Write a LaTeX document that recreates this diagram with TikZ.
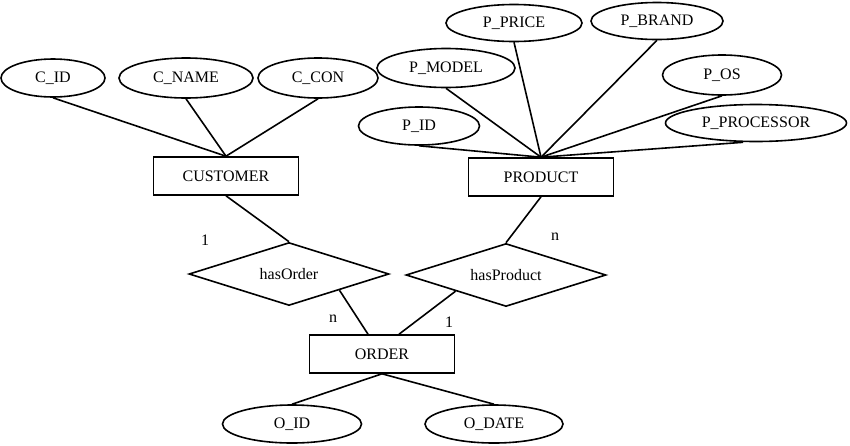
\documentclass[tikz,border=0pt]{standalone}
\usepackage{fontspec}
\setmainfont{Liberation Serif}
\usetikzlibrary{shapes.geometric}

\begin{document}
\begin{tikzpicture}[x=1pt, y=-1pt, line width=1.6pt,
    every node/.style={font=\fontsize{16}{19}\selectfont, inner sep=0pt},
    attr/.style={draw, ellipse},
    entity/.style={draw, rectangle, minimum width=145pt, minimum height=38pt},
    rel/.style={draw, diamond, aspect=3.2, minimum width=200pt, minimum height=63pt}]

\useasboundingbox (0,0) rectangle (850,445);

% entities and relations
\node[entity] (cust) at (226,176) {CUSTOMER};
\node[entity] (prod) at (541,177) {PRODUCT};
\node[entity] (order) at (382,354) {ORDER};
\node[rel] (hord) at (289,274) {hasOrder};
\node[rel] (hprod) at (506,275) {hasProduct};

% customer attributes
\node[attr, minimum width=104pt, minimum height=38pt] (cid) at (53,78) {C\_ID};
\node[attr, minimum width=134pt, minimum height=40pt] (cname) at (186,78) {C\_NAME};
\node[attr, minimum width=120pt, minimum height=40pt] (ccon) at (318,78) {C\_CON};

% product attributes
\node[attr, minimum width=136pt, minimum height=37pt] (pprice) at (514,23) {P\_PRICE};
\node[attr, minimum width=132pt, minimum height=37pt] (pbrand) at (657,21) {P\_BRAND};
\node[attr, minimum width=138pt, minimum height=39pt] (pmodel) at (446,68) {P\_MODEL};
\node[attr, minimum width=119pt, minimum height=40pt] (pos) at (722,75) {P\_OS};
\node[attr, minimum width=121pt, minimum height=38pt] (pid) at (419,126) {P\_ID};
\node[attr, minimum width=181pt, minimum height=37pt] (pproc) at (756,123) {P\_PROCESSOR};

% order attributes
\node[attr, minimum width=139pt, minimum height=38pt] (oid) at (292,424) {O\_ID};
\node[attr, minimum width=138pt, minimum height=38pt] (odate) at (494,424) {O\_DATE};

\foreach \a in {cid, cname, ccon}
    \draw (\a.south) -- (cust.north);
\foreach \a in {pprice, pbrand, pmodel, pos, pid}
    \draw (\a.south) -- (prod.north);
\draw ([xshift=-13pt]pproc.south) -- (prod.north);

\draw (cust.south) -- (hord.north);
\draw (prod.south) -- (hprod.north);
\draw (hord.south east) -- ([xshift=-14pt]order.north);
\draw (hprod.south west) -- ([xshift=17pt]order.north);
\draw (order.south) -- (oid.north);
\draw (order.south) -- (odate.north);

% cardinalities
\node (c1) at (205,240) {1};
\node (c2) at (555,237) {n};
\node (c3) at (333,319) {n};
\node (c4) at (449,322) {1};

\end{tikzpicture}
\end{document}
